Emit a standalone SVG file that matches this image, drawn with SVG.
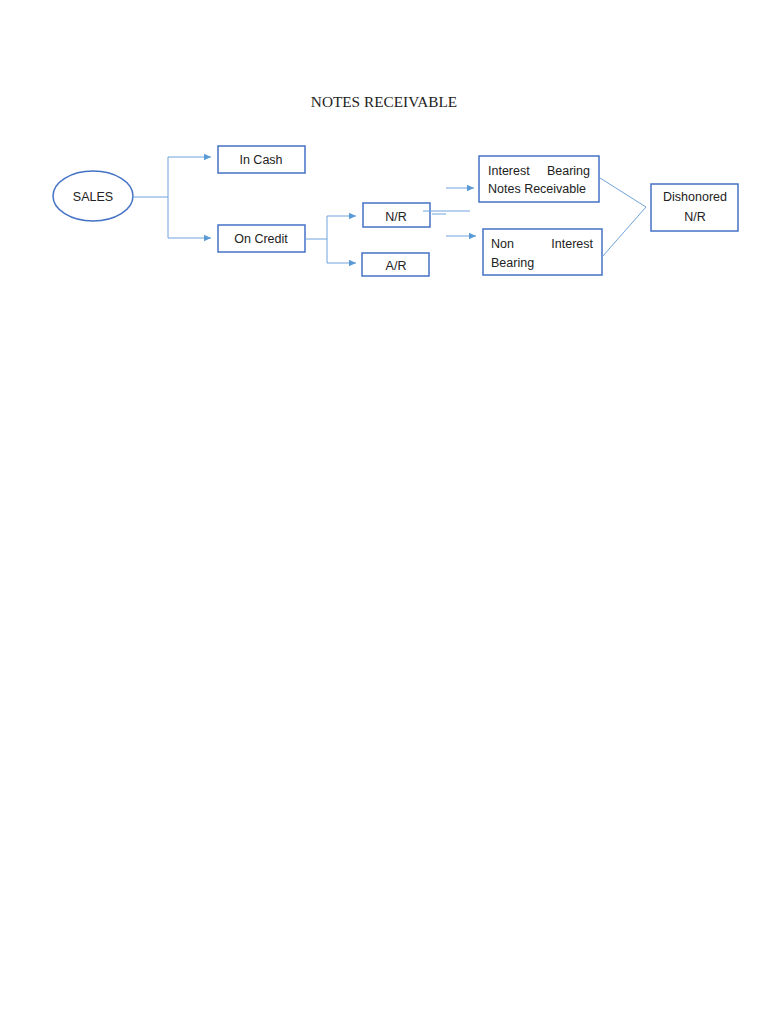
<svg xmlns="http://www.w3.org/2000/svg" width="768" height="1024" viewBox="0 0 768 1024">
<style>
.box{fill:#fff;stroke:#4472C4;stroke-width:1.5}
.lbl{font-family:"Liberation Sans",Arial,sans-serif;font-size:12.5px;fill:#222}
.c{text-anchor:middle}
.con{fill:none;stroke:#6FA3DC;stroke-width:1}
</style>
<defs>
<marker id="ah" markerWidth="8" markerHeight="8" refX="7" refY="4" orient="auto" markerUnits="userSpaceOnUse">
<path d="M0,0.8 L7,4 L0,7.2 Z" fill="#5B9BD5"/>
</marker>
</defs>
<rect width="768" height="1024" fill="#fff"/>
<text x="384" y="107" text-anchor="middle" font-family="Liberation Serif,'Times New Roman',serif" font-size="15.3" fill="#222">NOTES RECEIVABLE</text>
<g id="sales">
<ellipse cx="93" cy="196" rx="40" ry="25" class="box"/>
<text x="93" y="200.5" class="lbl c">SALES</text>
</g>
<g id="in-cash">
<rect x="218" y="146" width="87" height="27" class="box"/>
<text x="261" y="164" class="lbl c">In Cash</text>
</g>
<g id="on-credit">
<rect x="218" y="225" width="87" height="27" class="box"/>
<text x="261" y="243" class="lbl c">On Credit</text>
</g>
<g id="nr">
<rect x="363" y="203" width="67" height="24" class="box"/>
<text x="396" y="221" class="lbl c">N/R</text>
</g>
<g id="ar">
<rect x="362" y="253" width="67" height="23" class="box"/>
<text x="396" y="270" class="lbl c">A/R</text>
</g>
<g id="interest-bearing">
<rect x="479" y="156" width="120" height="46" class="box"/>
<text x="488" y="175" class="lbl">Interest</text>
<text x="590" y="175" class="lbl" text-anchor="end">Bearing</text>
<text x="488" y="193" class="lbl">Notes Receivable</text>
</g>
<g id="non-interest">
<rect x="483" y="229" width="119" height="46" class="box"/>
<text x="491" y="248" class="lbl">Non</text>
<text x="593" y="248" class="lbl" text-anchor="end">Interest</text>
<text x="491" y="267" class="lbl">Bearing</text>
</g>
<g id="dishonored">
<rect x="651" y="184" width="87" height="47" class="box"/>
<text x="695" y="201" class="lbl c">Dishonored</text>
<text x="695" y="221" class="lbl c">N/R</text>
</g>
<g id="connectors">
<path class="con" d="M133,197 H168 M168,157 V238"/>
<path class="con" d="M168,157 H211" marker-end="url(#ah)"/>
<path class="con" d="M168,238 H211" marker-end="url(#ah)"/>
<path class="con" d="M305,239 H327 M327,216 V263"/>
<path class="con" d="M327,216 H356" marker-end="url(#ah)"/>
<path class="con" d="M327,263 H356" marker-end="url(#ah)"/>
<path class="con" d="M423,211 H470 M432,214 H446"/>
<path class="con" d="M446,188 H474" marker-end="url(#ah)"/>
<path class="con" d="M446,236 H476" marker-end="url(#ah)"/>
<path class="con" d="M600,178 L646,207 L602,257"/>
</g>
</svg>
